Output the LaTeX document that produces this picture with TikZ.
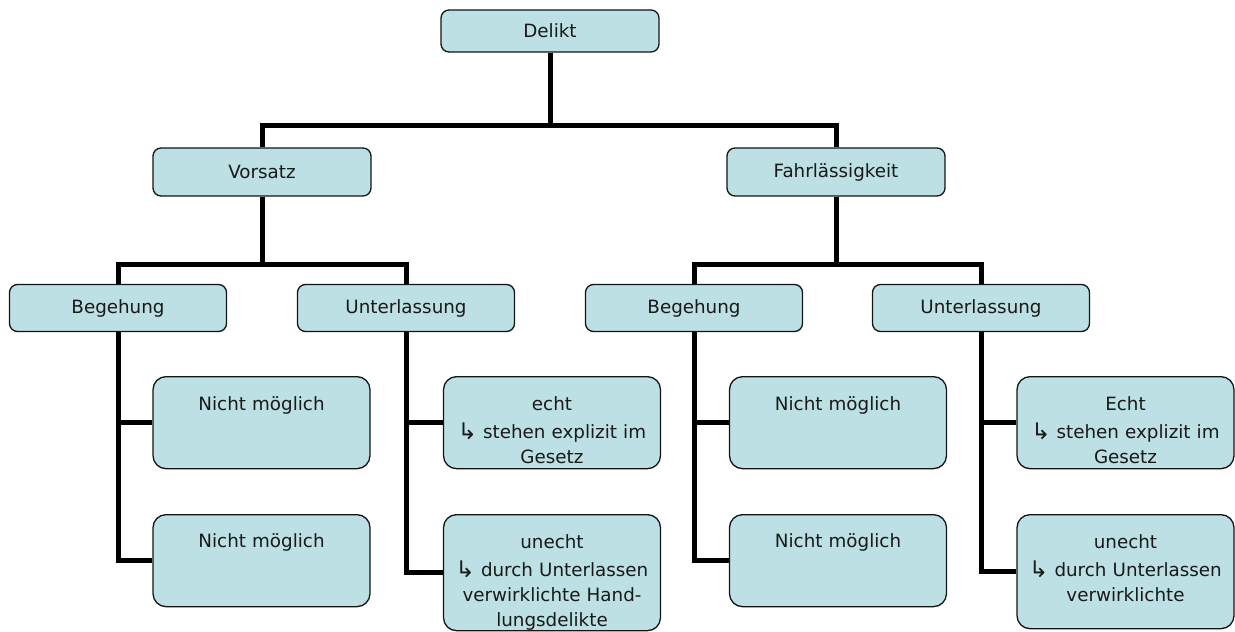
\documentclass[tikz,border=0pt]{standalone}
\usepackage{fontspec}
\setmainfont{DejaVu Sans}
\usetikzlibrary{backgrounds}
\definecolor{boxfill}{RGB}{188,224,227}
\definecolor{boxline}{RGB}{20,20,20}
\newcommand{\hookarrow}{\raisebox{-0.05em}{\scalebox{1.25}{↳}}}
\begin{document}
\begin{tikzpicture}[x=1pt,y=-1pt,
  box/.style={draw=boxline, line width=1.3pt, fill=boxfill, rounded corners=8pt,
    minimum width=217pt, minimum height=47pt, inner sep=0pt,
    font=\fontsize{18.3}{25}\selectfont, text=black!90},
  tall/.style={draw=boxline, line width=1.3pt, fill=boxfill, rounded corners=13pt,
    text width=217pt, align=center, inner sep=0pt, anchor=north,
    text height=34pt, font=\fontsize{18.3}{25}\selectfont, text=black!90},
  conn/.style={line width=5pt, draw=black}]
\useasboundingbox (0,0) rectangle (1235,632);

% level 0
\node[box, minimum width=218pt, minimum height=42pt] (delikt) at (550,31) {Delikt};
% level 1
\node[box, minimum width=218pt, minimum height=48pt] (vorsatz) at (262,172) {Vorsatz};
\node[box, minimum width=218pt, minimum height=48pt] (fahr) at (836,172) {Fahrlässigkeit};
% level 2
\node[box] (begL) at (118,308) {Begehung};
\node[box] (untL) at (406,308) {Unterlassung};
\node[box] (begR) at (694,308) {Begehung};
\node[box] (untR) at (981,308) {Unterlassung};
% level 3
\node[tall, text depth=58pt] (nmL1) at (261.5,376) {Nicht möglich};
\node[tall, text depth=59pt, text height=33pt] (nmL2) at (261.5,514) {Nicht möglich};
\node[tall, text depth=58pt] (echtL) at (552,376)
  {echt\\[3pt]\hookarrow{} stehen explizit im\\Gesetz};
\node[tall, text depth=82pt] (unechtL) at (552,514)
  {unecht\\[3pt]\hookarrow{} durch Unterlassen\\verwirklichte Hand-\\lungsdelikte};
\node[tall, text depth=58pt] (nmR1) at (838,376) {Nicht möglich};
\node[tall, text depth=59pt, text height=33pt] (nmR2) at (838,514) {Nicht möglich};
\node[tall, text depth=58pt] (echtR) at (1125.5,376)
  {Echt\\[3pt]\hookarrow{} stehen explizit im\\Gesetz};
\node[tall, text depth=80pt] (unechtR) at (1125.5,514)
  {unecht\\[3pt]\hookarrow{} durch Unterlassen\\verwirklichte};

\coordinate (j0) at (550,125);
\coordinate (j1) at (262,264);
\coordinate (j2) at (836,264);

\begin{pgfonlayer}{background}
\draw[conn] (delikt.south) -- (j0);
\draw[conn] (vorsatz.north) |- (j0) -| (fahr.north);
\draw[conn] (vorsatz.south) -- (j1);
\draw[conn] (begL.north) |- (j1) -| (untL.north);
\draw[conn] (fahr.south) -- (j2);
\draw[conn] (begR.north) |- (j2) -| (untR.north);
\draw[conn] (begL.south) |- (nmL1.west);
\draw[conn] (begL.south) |- (nmL2.west);
\draw[conn] (untL.south) |- (echtL.west);
\draw[conn] (untL.south) |- (unechtL.west);
\draw[conn] (begR.south) |- (nmR1.west);
\draw[conn] (begR.south) |- (nmR2.west);
\draw[conn] (untR.south) |- (echtR.west);
\draw[conn] (untR.south) |- (unechtR.west);
\end{pgfonlayer}
\end{tikzpicture}
\end{document}
